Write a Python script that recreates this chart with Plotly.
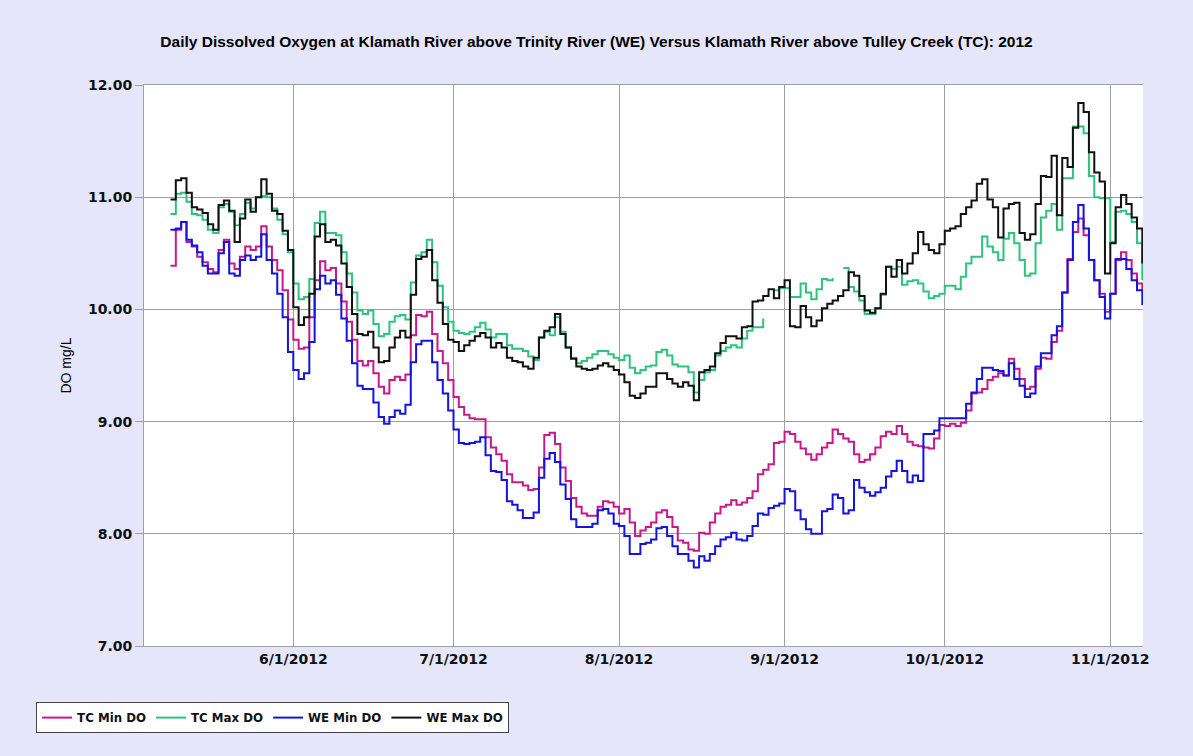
import pandas as pd
import plotly.graph_objects as go

# Daily dissolved oxygen (mg/L), one value per day starting 2012-05-09
start_date = "2012-05-09"

tc_min_do = [
    10.39, 10.71, 10.78, 10.60, 10.56, 10.47, 10.42, 10.36, 10.33, 10.53,
    10.62, 10.41, 10.36, 10.47, 10.56, 10.53, 10.56, 10.74, 10.56, 10.44,
    10.35, 10.17, 9.91, 9.73, 9.65, 9.66, 9.93, 10.26, 10.43, 10.35,
    10.37, 10.23, 10.07, 9.89, 9.73, 9.54, 9.50, 9.54, 9.43, 9.31,
    9.25, 9.37, 9.40, 9.37, 9.42, 9.77, 9.95, 9.94, 9.98, 9.78,
    9.63, 9.52, 9.37, 9.22, 9.13, 9.06, 9.03, 9.02, 9.02, 8.86,
    8.77, 8.71, 8.65, 8.53, 8.46, 8.46, 8.43, 8.39, 8.40, 8.59,
    8.88, 8.90, 8.80, 8.59, 8.47, 8.32, 8.24, 8.18, 8.16, 8.16,
    8.24, 8.29, 8.28, 8.24, 8.18, 8.22, 8.10, 7.98, 8.03, 8.06,
    8.10, 8.19, 8.21, 8.15, 8.06, 7.94, 7.92, 7.86, 7.85, 8.01,
    8.00, 8.10, 8.18, 8.24, 8.26, 8.30, 8.26, 8.28, 8.32, 8.38,
    8.53, 8.57, 8.62, 8.81, 8.82, 8.91, 8.89, 8.82, 8.76, 8.71,
    8.66, 8.71, 8.77, 8.81, 8.93, 8.89, 8.85, 8.82, 8.71, 8.64,
    8.66, 8.71, 8.77, 8.87, 8.91, 8.89, 8.96, 8.89, 8.82, 8.79,
    8.78, 8.77, 8.76, 8.85, 8.97, 8.96, 8.98, 8.96, 8.99, 9.10,
    9.25, 9.26, 9.29, 9.37, 9.40, 9.43, 9.41, 9.56, 9.47, 9.38,
    9.29, 9.31, 9.47, 9.57, 9.56, 9.71, 9.81, 10.15, 10.45, 10.69,
    10.81, 10.66, 10.44, 10.26, 10.14, 9.98, 10.14, 10.44, 10.51, 10.44,
    10.32, 10.23, 10.17,
]

tc_max_do = [
    10.85, 11.03, 11.04, 10.96, 10.85, 10.84, 10.80, 10.71, 10.68, 10.91,
    10.94, 10.87, 10.75, 10.85, 10.95, 10.90, 11.00, 11.01, 11.00, 10.90,
    10.80, 10.67, 10.51, 10.23, 10.09, 10.11, 10.27, 10.77, 10.87, 10.68,
    10.68, 10.66, 10.51, 10.32, 10.15, 9.99, 9.96, 9.99, 9.87, 9.76,
    9.78, 9.89, 9.94, 9.95, 9.91, 10.24, 10.48, 10.51, 10.62, 10.42,
    10.21, 10.02, 9.89, 9.81, 9.79, 9.78, 9.80, 9.84, 9.88, 9.82,
    9.75, 9.78, 9.78, 9.68, 9.65, 9.65, 9.63, 9.58, 9.55, 9.75,
    9.80, 9.77, 9.93, 9.80, 9.66, 9.57, 9.52, 9.54, 9.57, 9.60,
    9.63, 9.63, 9.60, 9.57, 9.55, 9.59, 9.48, 9.43, 9.46, 9.49,
    9.50, 9.62, 9.64, 9.59, 9.51, 9.49, 9.49, 9.44, 9.26, 9.37,
    9.44, 9.46, 9.59, 9.63, 9.66, 9.68, 9.66, 9.74, 9.81, 9.84,
    9.84, 9.92, None, 10.17, 10.19, 10.19, 10.11, 10.11, 10.23, 10.15,
    10.09, 10.18, 10.27, 10.26, 10.28, None, 10.37, 10.20, 10.16, 10.08,
    9.96, 9.96, 10.01, 10.13, 10.38, 10.36, 10.38, 10.22, 10.25, 10.26,
    10.23, 10.16, 10.10, 10.12, 10.14, 10.21, 10.21, 10.18, 10.29, 10.41,
    10.47, 10.47, 10.65, 10.56, 10.51, 10.44, 10.63, 10.68, 10.59, 10.44,
    10.30, 10.32, 10.59, 10.82, 10.88, 10.94, 10.71, 11.17, 11.17, 11.63,
    11.63, 11.57, 11.19, 11.00, 10.99, 10.99, 10.60, 10.87, 10.88, 10.85,
    10.78, 10.59, 10.26,
]

we_min_do = [
    10.71, 10.72, 10.78, 10.62, 10.57, 10.51, 10.39, 10.32, 10.32, 10.50,
    10.60, 10.32, 10.30, 10.44, 10.48, 10.44, 10.47, 10.67, 10.44, 10.32,
    10.14, 9.93, 9.62, 9.46, 9.38, 9.43, 9.71, 10.18, 10.30, 10.23,
    10.26, 10.13, 9.92, 9.72, 9.52, 9.32, 9.29, 9.29, 9.17, 9.04,
    8.98, 9.04, 9.10, 9.07, 9.15, 9.53, 9.69, 9.72, 9.72, 9.53,
    9.37, 9.25, 9.10, 8.93, 8.81, 8.80, 8.81, 8.82, 8.86, 8.70,
    8.56, 8.55, 8.48, 8.29, 8.26, 8.21, 8.14, 8.14, 8.19, 8.50,
    8.67, 8.72, 8.64, 8.44, 8.31, 8.13, 8.06, 8.06, 8.06, 8.09,
    8.21, 8.22, 8.18, 8.09, 8.07, 7.98, 7.82, 7.82, 7.91, 7.92,
    7.95, 8.05, 8.06, 7.98, 7.89, 7.82, 7.82, 7.76, 7.70, 7.80,
    7.76, 7.82, 7.89, 7.95, 7.97, 8.01, 7.95, 7.94, 7.98, 8.07,
    8.18, 8.17, 8.23, 8.25, 8.27, 8.40, 8.38, 8.21, 8.13, 8.04,
    8.00, 8.00, 8.20, 8.22, 8.35, 8.32, 8.18, 8.21, 8.48, 8.41,
    8.37, 8.34, 8.37, 8.41, 8.51, 8.56, 8.65, 8.56, 8.46, 8.52,
    8.47, 8.89, 8.89, 8.92, 9.03, 9.03, 9.03, 9.03, 9.03, 9.16,
    9.26, 9.38, 9.48, 9.48, 9.46, 9.45, 9.41, 9.52, 9.38, 9.32,
    9.22, 9.25, 9.49, 9.61, 9.61, 9.77, 9.85, 10.15, 10.44, 10.78,
    10.93, 10.72, 10.44, 10.26, 10.11, 9.92, 10.14, 10.45, 10.45, 10.36,
    10.26, 10.17, 10.04,
]

we_max_do = [
    10.98, 11.15, 11.17, 11.04, 10.91, 10.89, 10.86, 10.76, 10.71, 10.93,
    10.97, 10.88, 10.60, 10.81, 10.98, 10.87, 11.00, 11.16, 11.03, 10.88,
    10.85, 10.70, 10.53, 10.02, 9.86, 9.93, 10.14, 10.65, 10.76, 10.60,
    10.62, 10.57, 10.41, 10.20, 9.96, 9.78, 9.77, 9.80, 9.66, 9.53,
    9.54, 9.66, 9.75, 9.81, 9.75, 10.13, 10.45, 10.47, 10.53, 10.26,
    10.06, 9.87, 9.73, 9.71, 9.63, 9.68, 9.72, 9.76, 9.79, 9.75,
    9.66, 9.70, 9.66, 9.57, 9.54, 9.53, 9.49, 9.47, 9.57, 9.75,
    9.81, 9.84, 9.96, 9.78, 9.66, 9.56, 9.49, 9.47, 9.46, 9.47,
    9.50, 9.52, 9.49, 9.46, 9.42, 9.35, 9.23, 9.21, 9.25, 9.31,
    9.31, 9.43, 9.43, 9.38, 9.34, 9.31, 9.35, 9.32, 9.19, 9.44,
    9.46, 9.49, 9.61, 9.70, 9.76, 9.76, 9.74, 9.84, 9.85, 10.07,
    10.08, 10.12, 10.18, 10.10, 10.20, 10.26, 9.85, 9.84, 10.03, 9.93,
    9.85, 9.90, 10.01, 10.05, 10.08, 10.12, 10.17, 10.33, 10.30, 10.12,
    9.99, 9.97, 10.01, 10.14, 10.38, 10.29, 10.44, 10.32, 10.41, 10.50,
    10.69, 10.58, 10.53, 10.50, 10.58, 10.70, 10.72, 10.74, 10.85, 10.91,
    10.97, 11.12, 11.16, 10.98, 10.91, 10.64, 10.90, 10.94, 10.95, 10.68,
    10.62, 10.67, 10.94, 11.19, 11.18, 11.37, 10.84, 11.35, 11.27, 11.62,
    11.84, 11.76, 11.40, 11.22, 11.14, 10.32, 10.59, 10.91, 11.02, 10.94,
    10.82, 10.72, 10.41,
]

dates = pd.date_range(start_date, periods=len(tc_min_do), freq="D")

series = [
    ("TC Min DO", tc_min_do, "#C8198C"),
    ("TC Max DO", tc_max_do, "#2CC47C"),
    ("WE Min DO", we_min_do, "#1414DC"),
    ("WE Max DO", we_max_do, "#111111"),
]

fig = go.Figure()
for name, values, color in series:
    fig.add_trace(go.Scatter(
        x=dates, y=values, name=name, mode="lines",
        line=dict(color=color, width=2, shape="hv"),
        connectgaps=False,
    ))

grid = "#A0A0A0"
tick_font = dict(family="DejaVu Sans", size=14, color="#111111", weight="bold")

fig.update_layout(
    width=1193, height=756,
    paper_bgcolor="#E6E6FA",
    plot_bgcolor="#FFFFFF",
    margin=dict(l=144, r=50, t=85, b=110),
    title=dict(
        text="Daily Dissolved Oxygen at Klamath River above Trinity River (WE) Versus Klamath River above Tulley Creek (TC): 2012",
        x=0.5, xanchor="center", y=1 - 42 / 756, yanchor="middle",
        font=dict(family="Liberation Sans", size=15.5, color="#000000", weight="bold"),
    ),
    xaxis=dict(
        type="date",
        range=["2012-05-04 01:00", "2012-11-07 03:00"],
        tick0="2012-06-01", dtick="M1", tickformat="%-m/%-d/%Y",
        showgrid=True, gridcolor=grid, gridwidth=1,
        showline=True, linecolor=grid, linewidth=1, mirror=True,
        ticks="", tickfont=tick_font, zeroline=False,
    ),
    yaxis=dict(
        range=[7, 12], tick0=7, dtick=1, tickformat=".2f",
        showgrid=True, gridcolor=grid, gridwidth=1,
        showline=True, linecolor=grid, linewidth=1,
        ticks="outside", ticklen=8, tickcolor=grid,
        tickfont=tick_font, zeroline=False,
        title=dict(text="DO mg/L", standoff=13,
                   font=dict(family="Liberation Sans", size=14, color="#000000")),
    ),
    legend=dict(
        orientation="h", x=-0.108, xanchor="left", y=-0.1, yanchor="top",
        bgcolor="#FFFFFF", bordercolor="#444444", borderwidth=1,
        font=dict(family="DejaVu Sans", size=11.8, color="#111111", weight="bold"),
        itemwidth=30,
    ),
    showlegend=True,
)

fig.write_html("out.html")
